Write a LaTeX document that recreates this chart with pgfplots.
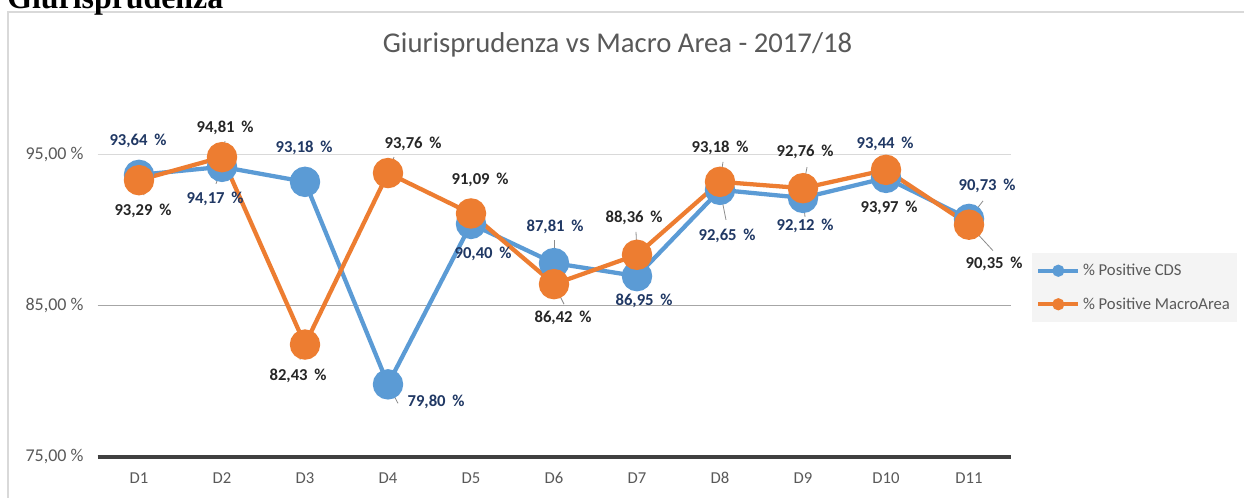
\documentclass[border=0pt]{standalone}
\usepackage{fontspec}
\setmainfont{Carlito}
\newfontfamily\serifb{Liberation Serif}
\usepackage{pgfplots}
\pgfplotsset{compat=1.18}
\usepackage{pgfplotstable}
\definecolor{cblue}{HTML}{5B9BD5}
\definecolor{corange}{HTML}{ED7D31}
\definecolor{lblue}{HTML}{203864}
\definecolor{lblack}{HTML}{262626}
\definecolor{tgray}{HTML}{595959}
\definecolor{gridlight}{HTML}{D9D9D9}
\definecolor{griddark}{HTML}{A6A6A6}
\definecolor{axisdark}{HTML}{404040}
\definecolor{legendgray}{HTML}{F4F4F4}
\definecolor{leader}{HTML}{8C8C8C}

% x y : value ; dx dy : label offset (px) ; lx ly : leader line (px)
\pgfplotstableread{
x  y     dx  dy    lx  ly
1  93.64 -1  33.6  0   0
2  94.17 -7  -32   -6  -17
3  93.18 -1  33.6  0   0
4  79.80 48  -18   10  -19
5  90.40 12  -30   10  -10
6  87.81 1   36    0   23
7  86.95 7   -25   10  -11
8  92.65 7   -46   6   -30
9  92.12 2   -28.5 2   -19
10 93.44 -1  33.6  0   0
11 90.73 18  32.7  14  18
}\cds
\pgfplotstableread{
x  y     dx  dy    lx  ly
1  93.29 4   -31   5   -15
2  94.81 3   29    3   16
3  82.43 -7  -31   -5  -15
4  93.76 25  29    6   16
5  91.09 9   34    6   13
6  86.42 9   -34   10  -20
7  88.36 -3  36.6  -1  23
8  93.18 0   33.6  3   20
9  92.76 2   36    4   21
10 93.97 3   -38   4   -22
11 90.35 25  -39.6 24  -26
}\macro

\pgfplotsset{
  lbl/.style={
    forget plot, draw=none, mark=none,
    point meta=explicit,
    visualization depends on={\thisrow{dx}\as\dx},
    visualization depends on={\thisrow{dy}\as\dy},
    nodes near coords={\pgfmathprintnumber[fixed,fixed zerofill,precision=2,use comma,assume math mode=true]{\pgfplotspointmeta}\hspace{0.4em}\%},
    every node near coord/.append style={anchor=center, inner sep=0pt,
      font=\bfseries\fontsize{12.5}{14}\selectfont, text=#1,
      xshift={0.75pt*\dx}, yshift={0.75pt*\dy}},
  },
  ldr/.style={
    forget plot, mark=none, leader, line width=0.6pt,
    quiver={u=\thisrow{lx}/83, v=\thisrow{ly}/15.14},
  },
}

\begin{document}
\begin{tikzpicture}[x=0.75pt,y=0.75pt]
\useasboundingbox (0,0) rectangle (1244,497);
\clip (0,0) rectangle (1244,497);
\fill[white] (0,0) rectangle (1244,497);
\draw[gridlight, line width=1pt] (8,-20) rectangle (1270,485);
\node[anchor=base west, inner sep=0pt, font=\serifb\bfseries\fontsize{23.9}{26}\selectfont] at (7,488.5) {Giurisprudenza};
\node[anchor=base, inner sep=0pt, text=tgray, font=\fontsize{21.5}{24}\selectfont] at (617.5,444) {Giurisprudenza vs Macro Area - 2017/18};

\begin{axis}[
  at={(73.125pt,30pt)}, anchor=south west,
  scale only axis,
  width=684.75pt, height=283.8pt,
  xmin=0.5, xmax=11.5, ymin=75, ymax=100,
  clip=false,
  axis x line*=bottom, axis y line*=left,
  x axis line style={-, line width=2.3pt, color=axisdark},
  y axis line style={draw=none},
  tick style={draw=none},
  xtick={1,2,3,4,5,6,7,8,9,10,11},
  xticklabels={D1,D2,D3,D4,D5,D6,D7,D8,D9,D10,D11},
  ytick={75,95},
  extra y ticks={85},
  extra y tick style={grid style={griddark, line width=0.9pt}},
  ymajorgrids,
  grid style={gridlight, line width=0.9pt},
  yticklabel={\pgfmathprintnumber[fixed,fixed zerofill,precision=2,use comma,assume math mode=true]{\tick}\ \%},
  ticklabel style={text=tgray, font=\fontsize{13.5}{15}\selectfont},
  y tick label style={xshift=-7pt},
  x tick label style={yshift=-8pt, font=\fontsize{12.5}{14}\selectfont},
  legend style={at={(axis description cs:1.0236,0.539)}, anchor=north west,
    fill=legendgray, draw=none, text=tgray,
    font=\fontsize{12.5}{14}\selectfont,
    inner xsep=3pt, inner ysep=6pt, row sep=11pt},
  legend cell align=left,
  legend image code/.code={
    \draw[#1, mark repeat=2, mark phase=2, mark size=3pt, line width=3pt]
      plot coordinates {(0pt,0pt) (15pt,0pt) (30pt,0pt)};
  },
]
\addplot[cblue, line width=3.2pt, mark=*, mark size=9.8pt, mark options={fill=cblue}] table[x=x,y=y]{\cds};
\addlegendentry{\% Positive CDS}
\addplot[corange, line width=3.2pt, mark=*, mark size=9.8pt, mark options={fill=corange}] table[x=x,y=y]{\macro};
\addlegendentry{\% Positive MacroArea}

\addplot[ldr] table[x=x,y=y]{\cds};
\addplot[ldr] table[x=x,y=y]{\macro};
\addplot[lbl=lblue] table[x=x,y=y,meta=y]{\cds};
\addplot[lbl=lblack] table[x=x,y=y,meta=y]{\macro};
\end{axis}
\end{tikzpicture}
\end{document}
